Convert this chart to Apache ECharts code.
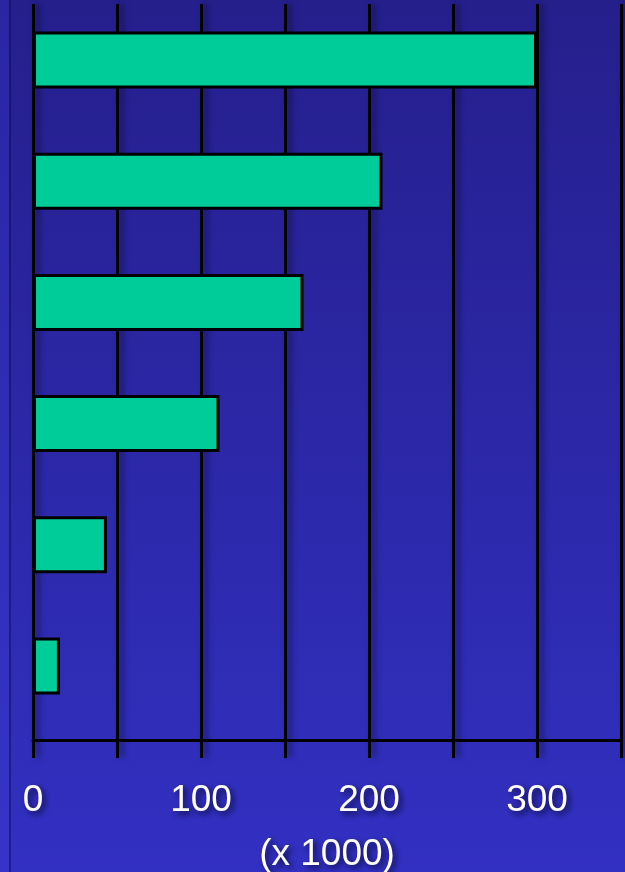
<!DOCTYPE html>
<html>
<head>
<meta charset="utf-8">
<script src="https://cdn.jsdelivr.net/npm/echarts@6/dist/echarts.min.js"></script>
<style>
html,body{margin:0;padding:0;width:625px;height:872px;overflow:hidden;}
#chart{width:625px;height:872px;}
</style>
</head>
<body>
<div id="chart"></div>
<script>
var categories = ['1', '2', '3', '4', '5', '6'];
var values = [300, 208, 161, 111, 44, 16];
var tickLabels = {0: '0', 100: '100', 200: '200', 300: '300'};
var axisName = '(x 1000)';

var chart = echarts.init(document.getElementById('chart'), null, {renderer: 'canvas'});

var shadowLine = {
  color: '#000000',
  width: 3,
  shadowColor: 'rgba(0,0,20,0.55)',
  shadowBlur: 6,
  shadowOffsetX: 4,
  shadowOffsetY: 0
};

var textFx = {
  color: '#ffffff', fontFamily: 'Liberation Sans, Arial, sans-serif', fontSize: 37,
  textShadowColor: 'rgba(0,0,30,0.8)', textShadowBlur: 6, textShadowOffsetX: 3, textShadowOffsetY: 3
};

var option = {
  animation: false,
  backgroundColor: {
    type: 'linear', x: 0, y: 0, x2: 0, y2: 1,
    colorStops: [
      {offset: 0, color: '#251f8c'},
      {offset: 1, color: '#3230c2'}
    ]
  },
  graphic: [
    {
      type: 'rect', left: 0, top: 0, z: -1,
      shape: {width: 9, height: 872},
      style: {
        fill: {
          type: 'linear', x: 0, y: 0, x2: 0, y2: 1,
          colorStops: [
            {offset: 0, color: '#2a26a2'},
            {offset: 1, color: '#3634c8'}
          ]
        }
      }
    },
    {
      type: 'rect', left: 9, top: 0, z: -1,
      shape: {width: 2, height: 872},
      style: {fill: 'rgba(10,8,80,0.45)'}
    }
  ],
  grid: [
    {left: 33, right: 4, top: 4, height: 736, containLabel: false, outerBoundsMode: 'none'},
    {left: 33, right: 4, top: -0.5, height: 727, containLabel: false, outerBoundsMode: 'none'}
  ],
  xAxis: [
    {
      type: 'value', gridIndex: 0, min: 0, max: 350, interval: 50,
      axisLine: {show: true, onZero: false, lineStyle: {color: '#000', width: 3}},
      axisTick: {show: true, length: 18, lineStyle: shadowLine},
      splitLine: {show: true, showMinLine: true, showMaxLine: true, lineStyle: shadowLine},
      axisLabel: Object.assign({
        show: true, margin: 42,
        formatter: function (v) { return tickLabels[v] !== undefined ? tickLabels[v] : ''; }
      }, textFx),
      name: axisName, nameLocation: 'middle', nameGap: 96,
      nameTextStyle: Object.assign({}, textFx)
    },
    {
      type: 'value', gridIndex: 1, min: 0, max: 350, interval: 50,
      show: false
    }
  ],
  yAxis: [
    {type: 'value', gridIndex: 0, min: 0, max: 1, show: false, splitLine: {show: false}},
    {
      type: 'category', gridIndex: 1, data: categories, inverse: true, show: false
    }
  ],
  series: [
    {
      type: 'bar', xAxisIndex: 1, yAxisIndex: 1,
      data: values, barWidth: 57,
      itemStyle: {color: '#00cc99', borderColor: '#000000', borderWidth: 3},
      z: 5
    }
  ]
};
chart.setOption(option);
</script>
</body>
</html>
